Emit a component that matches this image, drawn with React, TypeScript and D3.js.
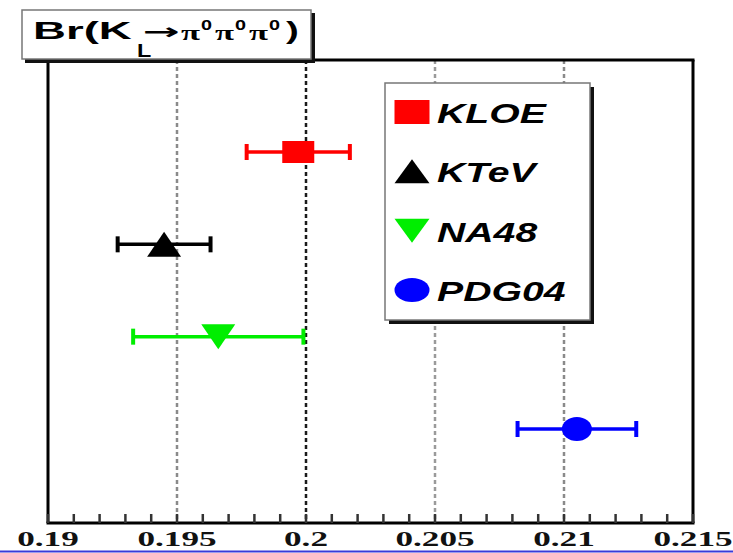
import React from "react";
import * as d3 from "d3";

const categories = ["KLOE", "KTeV", "NA48", "PDG04"];
const values = [0.1997, 0.1945, 0.1966, 0.2105];
const errors = [0.002, 0.0018, 0.0033, 0.0023];
const markerShapes = ["square", "triangleUp", "triangleDown", "circle"];
const seriesColors = ["#ff0000", "#000000", "#00ee00", "#0000ff"];
const tickValues = [0.19, 0.195, 0.2, 0.205, 0.21, 0.215];
const tickLabels = ["0.19", "0.195", "0.2", "0.205", "0.21", "0.215"];
const gridValues = [0.195, 0.2, 0.205, 0.21];
const gridColors = ["#8a8a8a", "#1a1a1a", "#9a9a9a", "#8a8a8a"];

const W = 733;
const H = 553;
const left = 48;
const right = 693;
const top = 60;
const bottom = 523;

const x = d3.scaleLinear().domain([0.19, 0.215]).range([left, right]);
const y = d3.scalePoint<string>().domain(categories).range([152, 429]);
const minorTicks = x.ticks(25);

function Marker({ shape, cx, cy, color, w, h }: any) {
  if (shape === "square") {
    return <rect x={cx - w / 2} y={cy - h / 2} width={w} height={h} fill={color} />;
  }
  if (shape === "triangleUp") {
    const p = d3.path();
    p.moveTo(cx, cy - h / 2);
    p.lineTo(cx + w / 2, cy + h / 2);
    p.lineTo(cx - w / 2, cy + h / 2);
    p.closePath();
    return <path d={p.toString()} fill={color} />;
  }
  if (shape === "triangleDown") {
    const p = d3.path();
    p.moveTo(cx - w / 2, cy - h / 2);
    p.lineTo(cx + w / 2, cy - h / 2);
    p.lineTo(cx, cy + h / 2);
    p.closePath();
    return <path d={p.toString()} fill={color} />;
  }
  return <ellipse cx={cx} cy={cy} rx={w / 2} ry={h / 2} fill={color} />;
}

export default function App() {
  const legendX = 412;
  const legendY = d3.scalePoint<string>().domain(categories).range([112, 290]);
  return (
    <svg
      width={W}
      height={H}
      style={{ position: "absolute", left: 0, top: 0, background: "#fff" }}
    >
      <rect x={0} y={0} width={W} height={H} fill="#fff" />
      {/* grid lines */}
      {gridValues.map((g, i) => (
        <line
          key={"g" + i}
          x1={x(g)}
          x2={x(g)}
          y1={top}
          y2={bottom}
          stroke={gridColors[i]}
          strokeWidth={2.5}
          strokeDasharray="4,3"
        />
      ))}
      {/* frame */}
      <line x1={left} x2={right + 1.5} y1={top} y2={top} stroke="#000" strokeWidth={3} />
      <line x1={left} x2={left} y1={top} y2={bottom} stroke="#000" strokeWidth={3} />
      <line x1={right} x2={right} y1={top} y2={bottom} stroke="#000" strokeWidth={3} />
      <line x1={left - 1.5} x2={right + 1.5} y1={bottom} y2={bottom} stroke="#000" strokeWidth={3} />
      {/* ticks */}
      {minorTicks.map((t, i) => (
        <line
          key={"t" + i}
          x1={x(t)}
          x2={x(t)}
          y1={bottom}
          y2={bottom - 9}
          stroke="#333"
          strokeWidth={2.5}
        />
      ))}
      {tickValues.map((t, i) => (
        <text
          key={"l" + i}
          transform={`translate(${x(t)},${546}) scale(1.6,1)`}
          textAnchor="middle"
          fontFamily="Liberation Serif, serif"
          fontWeight="bold"
          fontSize={22}
          fill="#111"
        >
          {tickLabels[i]}
        </text>
      ))}
      {/* data */}
      {categories.map((c, i) => {
        const cy = y(c) as number;
        const x0 = x(values[i] - errors[i]);
        const x1 = x(values[i] + errors[i]);
        const col = seriesColors[i];
        const sz =
          markerShapes[i] === "square"
            ? [32, 22]
            : markerShapes[i] === "circle"
            ? [30, 24]
            : [34, 25];
        return (
          <g key={"d" + i}>
            <line x1={x0} x2={x1} y1={cy} y2={cy} stroke={col} strokeWidth={3.5} />
            <line x1={x0} x2={x0} y1={cy - 8} y2={cy + 8} stroke={col} strokeWidth={4} />
            <line x1={x1} x2={x1} y1={cy - 8} y2={cy + 8} stroke={col} strokeWidth={4} />
            <Marker shape={markerShapes[i]} cx={x(values[i])} cy={cy} color={col} w={sz[0]} h={sz[1]} />
          </g>
        );
      })}
      {/* legend */}
      <rect x={389} y={87} width={205} height={237} fill="#111" />
      <rect x={385} y={83} width={205} height={237} fill="#fff" stroke="#777" strokeWidth={1.5} />
      {categories.map((c, i) => {
        const cy = legendY(c) as number;
        return (
          <g key={"lg" + i}>
            <Marker shape={markerShapes[i]} cx={legendX} cy={cy} color={seriesColors[i]} w={35} h={24} />
            <text
              transform={`translate(437,${cy + 11}) scale(1.4,1)`}
              fontFamily="Liberation Sans, Arial, sans-serif"
              fontWeight="bold"
              fontStyle="italic"
              fontSize={28}
              fill="#000"
            >
              {c}
            </text>
          </g>
        );
      })}
      {/* title box */}
      <rect x={25} y={13} width={290} height={50} fill="#111" />
      <rect x={22} y={10} width={289} height={49} fill="#fff" stroke="#777" strokeWidth={1.5} />
      <text
        transform="translate(33,39) scale(1.9,1)"
        fontFamily="Liberation Sans, Arial, sans-serif"
        fontWeight="bold"
        fontSize={24}
        fill="#000"
      >
        Br(K
      </text>
      <text
        transform="translate(137,57) scale(1.3,1)"
        fontFamily="Liberation Sans, Arial, sans-serif"
        fontWeight="bold"
        fontSize={18}
        fill="#000"
      >
        L
      </text>
      <text
        x={143}
        y={39}
        textLength={37}
        lengthAdjust="spacingAndGlyphs"
        fontFamily="DejaVu Sans, sans-serif"
        fontWeight="bold"
        fontSize={22}
        fill="#000"
      >
        →
      </text>
      {[0, 1, 2].map((k) => (
        <g key={"pi" + k}>
          <text
            x={181 + k * 34}
            y={40}
            textLength={19}
            lengthAdjust="spacingAndGlyphs"
            fontFamily="Liberation Serif, serif"
            fontWeight="bold"
            fontSize={22}
            fill="#000"
          >
            π
          </text>
          <text
            x={201 + k * 34}
            y={30}
            textLength={11}
            lengthAdjust="spacingAndGlyphs"
            fontFamily="Liberation Sans, sans-serif"
            fontWeight="bold"
            fontSize={14}
            fill="#000"
          >
            0
          </text>
        </g>
      ))}
      <text
        transform="translate(286,39) scale(1.6,1)"
        fontFamily="Liberation Sans, Arial, sans-serif"
        fontWeight="bold"
        fontSize={24}
        fill="#000"
      >
        )
      </text>
      {/* bottom slide line */}
      <line x1={0} x2={W} y1={551.5} y2={551.5} stroke="#3a3ad8" strokeWidth={2} />
    </svg>
  );
}
